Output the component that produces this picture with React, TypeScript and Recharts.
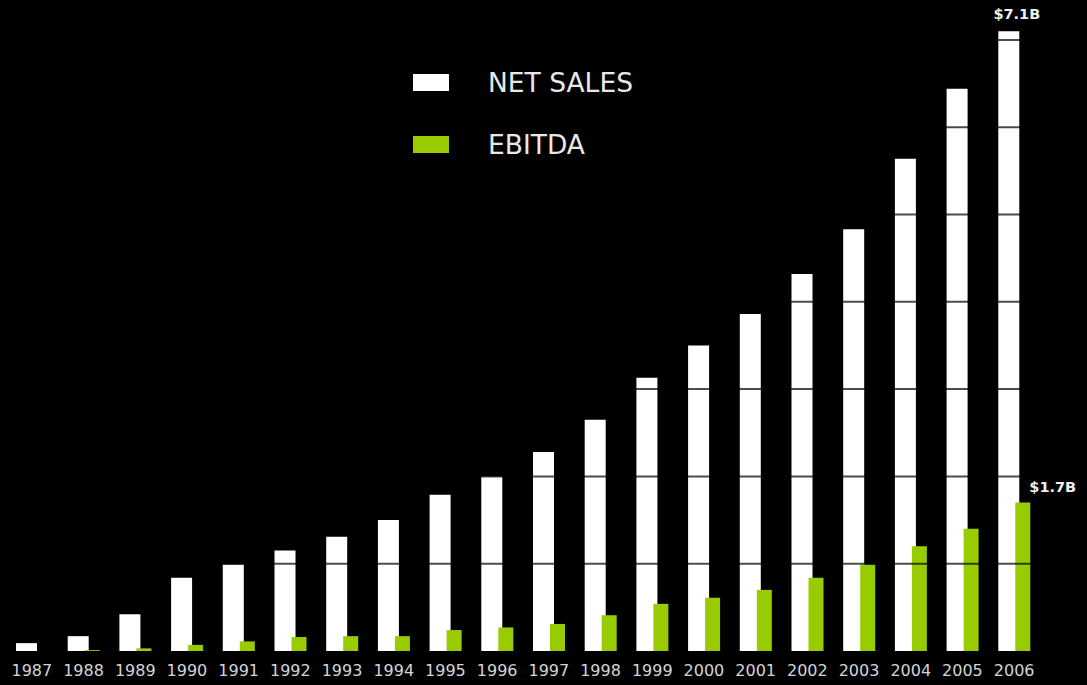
import { Bar, BarChart, LabelList, ReferenceLine, XAxis, YAxis } from 'recharts'

// Net sales and EBITDA, in $ billions, 1987–2006
const years = [
  '1987', '1988', '1989', '1990', '1991', '1992', '1993', '1994', '1995', '1996',
  '1997', '1998', '1999', '2000', '2001', '2002', '2003', '2004', '2005', '2006',
]
const netSales = [
  0.09, 0.17, 0.42, 0.84, 0.99, 1.15, 1.31, 1.5, 1.79, 2.0,
  2.28, 2.65, 3.13, 3.5, 3.86, 4.32, 4.83, 5.64, 6.44, 7.1,
]
const ebitda = [
  0.0, 0.01, 0.03, 0.07, 0.11, 0.16, 0.17, 0.17, 0.24, 0.27,
  0.31, 0.41, 0.54, 0.61, 0.7, 0.84, 0.99, 1.2, 1.4, 1.7,
]
const gridLines = [1, 2, 3, 4, 5, 6, 7]
const netSalesLabel = '$7.1B'
const ebitdaLabel = '$1.7B'

const WHITE = '#ffffff'
const GREEN = '#99cc00'
const FONT = '"DejaVu Sans", Verdana, sans-serif'

const data = years.map((year, i) => ({ year, netSales: netSales[i], ebitda: ebitda[i] }))
const last = years.length - 1

// only the 2006 bars carry a value label (match on value: zero-height bars get dropped, so index shifts)
function endLabel(text: string, lastValue: number, dx: number, dy: number, anchor: 'middle' | 'start') {
  return (props: any) => {
    if (Number(props.value) !== lastValue) return null
    const x = Number(props.x) + (anchor === 'middle' ? Number(props.width) / 2 : Number(props.width)) + dx
    const y = Number(props.y) + dy
    return (
      <text x={x} y={y} textAnchor={anchor} fill="#f0f0f0" fontFamily={FONT} fontWeight="bold" fontSize={14.5}>
        {text}
      </text>
    )
  }
}

// legend sits over the plot, so keep it out of recharts' layout
function LegendBox() {
  const items = [
    { label: 'NET SALES', color: WHITE },
    { label: 'EBITDA', color: GREEN },
  ]
  return (
    <div style={{ position: 'absolute', left: 413, top: 51, fontFamily: FONT }}>
      {items.map((it) => (
        <div key={it.label} style={{ display: 'flex', alignItems: 'center', height: 62 }}>
          <div style={{ width: 36, height: 17, background: it.color }} />
          <span style={{ marginLeft: 39, fontSize: 26.5, color: '#e8e8e8' }}>{it.label}</span>
        </div>
      ))}
    </div>
  )
}

export default function App() {
  return (
    <div style={{ position: 'fixed', left: 0, top: 0, width: 1087, height: 685, background: '#000' }}>
      <BarChart
        width={1087}
        height={685}
        data={data}
        margin={{ top: 5, right: 47, bottom: 0, left: 6 }}
        barGap={-4}
        style={{ overflow: 'visible' }}
      >
        <XAxis
          dataKey="year"
          axisLine={false}
          tickLine={false}
          tickSize={0}
          tickMargin={14}
          height={34}
          interval={0}
          tick={{ fill: '#d4d4d4', fontSize: 16, fontFamily: FONT }}
        />
        <YAxis hide type="number" domain={[0, 7.4]} allowDataOverflow />
        <Bar dataKey="netSales" fill={WHITE} barSize={21} isAnimationActive={false}>
          <LabelList dataKey="netSales" content={endLabel(netSalesLabel, netSales[last], 8, -12, 'middle')} />
        </Bar>
        <Bar dataKey="ebitda" fill={GREEN} barSize={15} isAnimationActive={false}>
          <LabelList dataKey="ebitda" content={endLabel(ebitdaLabel, ebitda[last], -1, -11, 'start')} />
        </Bar>
        {gridLines.map((v) => (
          <ReferenceLine key={v} y={v} stroke="#000" strokeOpacity={0.7} strokeWidth={2} />
        ))}
      </BarChart>
      <LegendBox />
    </div>
  )
}
